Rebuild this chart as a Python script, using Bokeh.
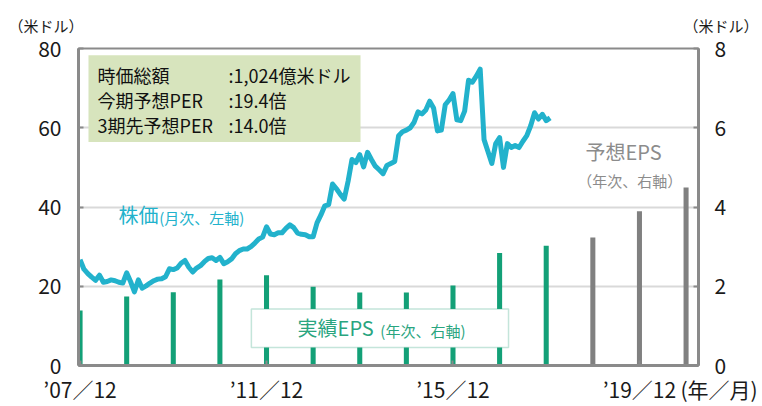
from bokeh.plotting import figure
from bokeh.models import Range1d, LinearAxis, FixedTicker, BoxAnnotation, Label, Title
from bokeh.embed import file_html
from bokeh.resources import INLINE

# ---- data -------------------------------------------------------------
# monthly share price (US$), Dec 2007 .. Jan 2018
price = [
    26.7, 24.3, 23.2, 22.3, 21.5, 22.8, 21.0, 21.2, 21.6, 21.4, 21.0, 20.8,
    23.4, 21.2, 18.6, 21.6, 19.5, 20.1, 20.8, 21.4, 21.8, 21.9, 22.4, 24.4,
    24.2, 24.6, 25.8, 26.5, 24.8, 23.6, 24.6, 25.2, 26.2, 27.0, 27.2, 26.5,
    27.3, 25.7, 26.2, 26.9, 28.2, 29.0, 29.4, 29.4, 30.0, 30.9, 31.9, 32.4,
    35.0, 33.2, 33.0, 33.5, 33.5, 34.6, 35.5, 34.8, 33.4, 33.1, 33.0, 32.5,
    32.5, 36.0, 38.0, 40.3, 40.6, 45.8, 44.6, 43.2, 42.0, 46.5, 52.0, 51.2,
    53.2, 50.1, 53.8, 52.0, 50.3, 49.4, 48.4, 50.5, 51.0, 51.5, 58.0, 59.0,
    59.4, 60.0, 61.4, 64.0, 63.5, 64.5, 66.7, 65.0, 59.2, 59.4, 65.8, 67.0,
    68.6, 62.0, 61.8, 64.2, 72.0, 71.5, 73.0, 74.8, 57.0, 54.0, 51.0, 56.0,
    57.5, 50.0, 56.0, 55.0, 55.5, 55.0, 56.6, 58.0, 60.5, 63.8, 62.2, 63.4,
    61.8, 62.5,
]
# annual EPS (US$), December of each year
eps_actual_years = [2007, 2008, 2009, 2010, 2011, 2012, 2013, 2014, 2015, 2016, 2017]
eps_actual = [1.39, 1.74, 1.85, 2.17, 2.28, 1.99, 1.84, 1.84, 2.02, 2.84, 3.02]
eps_forecast_years = [2018, 2019, 2020]
eps_forecast = [3.23, 3.89, 4.49]

tick_years = [2007, 2011, 2015, 2019]
tick_labels = ["’07／12", "’11／12", "’15／12", "’19／12"]
x_unit = "(年／月)"
y_unit = "（米ドル）"

info_names = ["時価総額", "今期予想PER", "3期先予想PER"]
info_values = [":1,024億米ドル", ":19.4倍", ":14.0倍"]

# x axis in months counted from Dec 2007
def month_index(year, month=12):
    return (year - 2007) * 12 + (month - 12)

X_END = 159.2
price_x = list(range(len(price)))
act_x = [month_index(y) for y in eps_actual_years]
fc_x = [month_index(y) for y in eps_forecast_years]
tick_x = [month_index(y) for y in tick_years]

FONT = "Noto Sans CJK JP"
CYAN = "#22b2cc"
GREEN = "#13a077"
GRAY = "#808080"
AXIS = "#8a8a8a"

p = figure(width=762, height=406, output_backend="svg", toolbar_location=None,
           x_range=Range1d(-0.4, X_END), y_range=Range1d(0, 80),
           min_border_left=78, min_border_right=64, min_border_top=48,
           min_border_bottom=36, background_fill_color="white")
p.extra_y_ranges = {"eps": Range1d(0, 8)}

p.outline_line_color = AXIS
p.outline_line_width = 2
p.xgrid.grid_line_color = None
p.ygrid.grid_line_color = "#d9d9d9"
p.ygrid.grid_line_width = 2
p.ygrid.ticker = FixedTicker(ticks=[20, 40, 60])

# left axis
ly = p.yaxis[0]
ly.ticker = FixedTicker(ticks=[0, 20, 40, 60, 80])
# bottom axis (unit label rides on an extra tick at the right edge)
bx = p.xaxis[0]
unit_tick = X_END - 0.1
bx.ticker = FixedTicker(ticks=tick_x + [unit_tick])
overrides = {t: l for t, l in zip(tick_x, tick_labels)}
overrides[unit_tick] = "\u3000\u3000" + x_unit
bx.major_label_overrides = overrides
ry = LinearAxis(y_range_name="eps", ticker=FixedTicker(ticks=[0, 2, 4, 6, 8]))
p.add_layout(ry, "right")

for ax in (ly, bx, ry):
    ax.axis_line_color = AXIS
    ax.axis_line_width = 3
    ax.major_tick_line_color = AXIS
    ax.major_tick_line_width = 2
    ax.major_tick_in = 5
    ax.major_tick_out = 0
    ax.minor_tick_line_color = None
    ax.major_label_text_font = FONT
    ax.major_label_text_font_size = "21px"
    ax.major_label_text_color = "#1a1a1a"
ly.major_label_standoff = 17
ry.major_label_standoff = 16
bx.major_label_standoff = 8

# y unit labels (left and right) as one title line
p.add_layout(Title(text=y_unit + "\u3000" * 40 + "\u2002" + y_unit, align="left",
                   offset=-70, text_font=FONT, text_font_size="15px",
                   text_font_style="normal", text_color="#1a1a1a", standoff=24,
                   vertical_align="middle"),
             "above")

# bars
p.vbar(x=act_x, top=eps_actual, width=1.3, bottom=0, y_range_name="eps",
       fill_color=GREEN, line_color=None)
p.vbar(x=fc_x, top=eps_forecast, width=1.3, bottom=0, y_range_name="eps",
       fill_color=GRAY, line_color=None)
# price line
p.line(price_x, price, line_color=CYAN, line_width=5, line_join="round")

# info box
p.add_layout(BoxAnnotation(left=2.17, right=72.2, bottom=56.4, top=78.3,
                           fill_color="#d7e4bd", fill_alpha=1, line_color=None))
for i, (n, v) in enumerate(zip(info_names, info_values)):
    yy = 73.4 - i * 6.4
    p.add_layout(Label(x=4.5, y=yy, text=n, text_font=FONT, text_font_size="18px",
                       text_baseline="middle", text_color="#111111"))
    p.add_layout(Label(x=38.2, y=yy, text=v, text_font=FONT, text_font_size="18px",
                       text_baseline="middle", text_color="#111111"))

# price label
p.add_layout(Label(x=9.9, y=38.0, text="株価", text_font=FONT, text_font_size="20px",
                   text_baseline="middle", text_color=CYAN))
p.add_layout(Label(x=20.4, y=37.4, text="(月次、左軸)", text_font=FONT,
                   text_font_size="15px", text_baseline="middle", text_color=CYAN))

# actual EPS box
p.add_layout(BoxAnnotation(left=44.1, right=110.3, bottom=4.55, top=14.24,
                           fill_color="white", fill_alpha=1, line_color="#3aa985",
                           line_width=1.5))
p.add_layout(Label(x=56.0, y=9.5, text="実績EPS", text_font=FONT, text_font_size="20px",
                   text_baseline="middle", text_color="#2aa57f"))
p.add_layout(Label(x=77.3, y=8.8, text="(年次、右軸)", text_font=FONT,
                   text_font_size="15px", text_baseline="middle", text_color="#2aa57f"))

# forecast EPS label
p.add_layout(Label(x=130.1, y=53.9, text="予想EPS", text_font=FONT, text_font_size="20px",
                   text_baseline="middle", text_color="#8c8c8c"))
p.add_layout(Label(x=128.0, y=46.7, text="（年次、右軸）", text_font=FONT,
                   text_font_size="15px", text_baseline="middle", text_color="#8c8c8c"))

open("out.html", "w").write(file_html(p, INLINE))
